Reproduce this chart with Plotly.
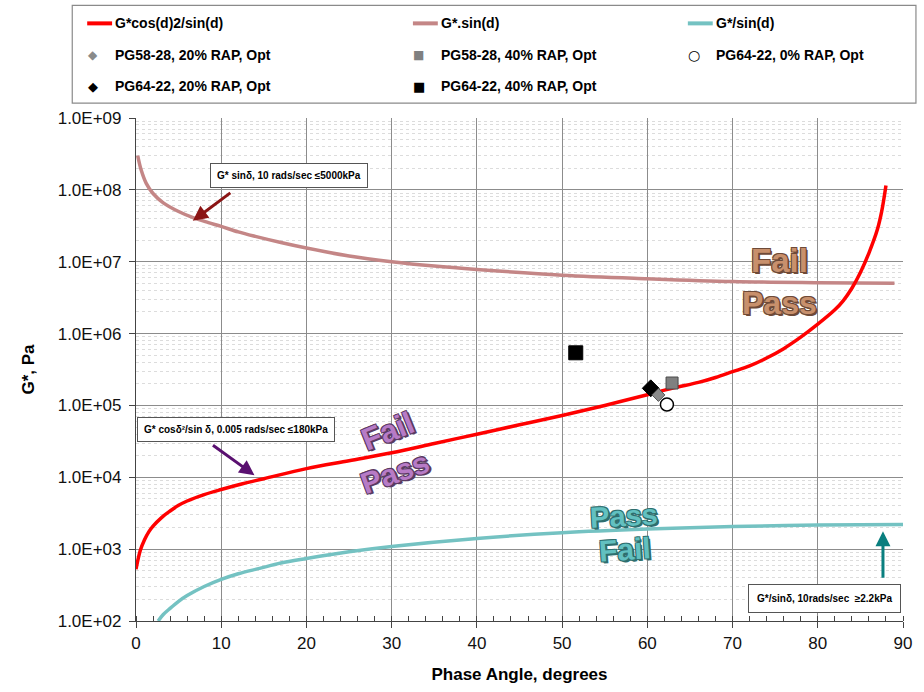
import plotly.graph_objects as go

# ---------------- data ----------------
red_deg = [0, 0.5, 1, 1.5, 2, 3, 4, 5, 6, 8, 10, 12.5, 15, 20, 25, 30, 35, 40, 45, 50, 55, 60, 63,
           66, 68, 70, 72, 74, 76, 78, 80, 82, 83, 84, 85, 86, 87, 87.5, 88]
red_g = [525, 955, 1350, 1740, 2090, 2750, 3390, 4070, 4680, 5750, 6760, 8130, 9550, 13200, 17000,
         21900, 29500, 39800, 53700, 72400, 100000, 141000, 174000,
         209000, 245000, 295000, 355000, 457000, 617000, 891000, 1350000, 2140000, 2880000,
         4270000, 7080000, 13200000, 28200000, 50100000, 115000000]

sin_deg = [0.2, 0.6, 1.2, 2, 3.2, 5, 6.7, 8.5, 10, 12, 14, 17, 20, 25, 30, 35, 40, 50, 60, 70, 80, 89]
sin_g = [3.0e8, 1.9e8, 1.23e8, 8.9e7, 6.6e7, 5.0e7, 4.1e7, 3.5e7, 3.1e7, 2.6e7, 2.25e7, 1.85e7,
         1.55e7, 1.2e7, 1.0e7, 8.7e6, 7.8e6, 6.5e6, 5.8e6, 5.3e6, 5.1e6, 5.0e6]

inv_deg = [2.6, 3.2, 4, 5, 6, 8, 10, 12, 14.5, 17, 20, 25, 30, 40, 50, 60, 70, 80, 90]
inv_g = [100, 123, 150, 188, 226, 302, 380, 455, 540, 640, 740, 920, 1090, 1410, 1690, 1900, 2060, 2160, 2200]

pt_names = ["PG58-28, 20% RAP, Opt", "PG58-28, 40% RAP, Opt", "PG64-22, 0% RAP, Opt",
            "PG64-22, 20% RAP, Opt", "PG64-22, 40% RAP, Opt"]
pt_deg = [61.3, 62.9, 62.3, 60.4, 51.6]
pt_g = [1.40e5, 2.05e5, 1.03e5, 1.73e5, 5.4e5]

line_names = ["G*cos(d)2/sin(d)", "G*.sin(d)", "G*/sin(d)"]
y_tickvals = [1e2, 1e3, 1e4, 1e5, 1e6, 1e7, 1e8, 1e9]
y_ticktext = ["1.0E+02", "1.0E+03", "1.0E+04", "1.0E+05", "1.0E+06", "1.0E+07", "1.0E+08", "1.0E+09"]

# ---------------- styles ----------------
RED = "#FF0000"
BROWN = "#C48686"
TEAL = "#74C2C2"
pt_styles = [
    dict(symbol="diamond", size=10, color="#8A8A8A", line=dict(color="#555555", width=1)),
    dict(symbol="square", size=12, color="#808080", line=dict(color="#4a4a4a", width=1)),
    dict(symbol="circle", size=13, color="#FFFFFF", line=dict(color="#000000", width=1.5)),
    dict(symbol="diamond", size=13, color="#000000", line=dict(color="#000000", width=1)),
    dict(symbol="square", size=14, color="#000000", line=dict(color="#000000", width=1)),
]

FONT = "Liberation Sans, Arial, sans-serif"

fig = go.Figure()
fig.add_trace(go.Scatter(x=sin_deg, y=sin_g, mode="lines", name=line_names[1],
                         line=dict(color=BROWN, width=3.5, shape="spline", smoothing=1.0)))
fig.add_trace(go.Scatter(x=inv_deg, y=inv_g, mode="lines", name=line_names[2],
                         line=dict(color=TEAL, width=3.5, shape="spline", smoothing=1.0)))
fig.add_trace(go.Scatter(x=red_deg, y=red_g, mode="lines", name=line_names[0],
                         line=dict(color=RED, width=3.5, shape="spline", smoothing=1.0)))
order = [4, 3, 0, 1, 2]
for i in order:
    fig.add_trace(go.Scatter(x=[pt_deg[i]], y=[pt_g[i]], mode="markers", name=pt_names[i],
                             marker=pt_styles[i]))

# ---------------- layout helpers (pixel -> paper) ----------------
L, R, T, B = 136, 18, 118, 69
W, H = 924, 692
PW, PH = W - L - R, H - T - B


def px(X):
    return (X - L) / PW


def py(Y):
    return (H - B - Y) / PH


shapes = []
annotations = []

# custom legend box
shapes.append(dict(type="rect", xref="paper", yref="paper", x0=px(72), x1=px(919), y0=py(103), y1=py(5),
                   line=dict(color="#8a8a8a", width=1.2), fillcolor="white", layer="above"))
col_x = [113, 440, 716]
row_y = [23, 55, 86]
LEG_FONT = dict(family=FONT, size=14, color="#000", weight="bold")
line_colors = [RED, BROWN, TEAL]
for c in range(3):
    shapes.append(dict(type="line", xref="paper", yref="paper", x0=px(col_x[c] - 26), x1=px(col_x[c] - 1),
                       y0=py(row_y[0]), y1=py(row_y[0]), line=dict(color=line_colors[c], width=4), layer="above"))
    annotations.append(dict(xref="paper", yref="paper", x=px(col_x[c]), y=py(row_y[0]), text=line_names[c],
                            showarrow=False, xanchor="left", yanchor="middle", font=LEG_FONT))
glyphs = [("◆", "#8A8A8A", 12), ("■", "#808080", 12), ("○", "#000000", 14), ("◆", "#000000", 13), ("■", "#000000", 13)]
for k in range(5):
    r = 1 + k // 3
    c = k % 3
    g, col, sz = glyphs[k]
    annotations.append(dict(xref="paper", yref="paper", x=px(col_x[c] - 20), y=py(row_y[r]), text=g,
                            showarrow=False, xanchor="center", yanchor="middle",
                            font=dict(family="DejaVu Sans", size=sz, color=col)))
    annotations.append(dict(xref="paper", yref="paper", x=px(col_x[c]), y=py(row_y[r]), text=pt_names[k],
                            showarrow=False, xanchor="left", yanchor="middle", font=LEG_FONT))

# criterion boxes and arrows
BOX_FONT = dict(family=FONT, size=10, color="#000", weight="bold")
annotations += [
    dict(x=18.0, y=8.204, xref="x", yref="y", text="G* sinδ, 10 rads/sec ≤5000kPa", showarrow=False,
         bgcolor="white", bordercolor="#555", borderwidth=1, borderpad=6, font=BOX_FONT),
    dict(x=11.7, y=4.667, xref="x", yref="y", text="G* cosδ²/sin δ, 0.005 rads/sec ≤180kPa", showarrow=False,
         bgcolor="white", bordercolor="#555", borderwidth=1, borderpad=6, font=BOX_FONT),
    dict(x=80.8, y=2.32, xref="x", yref="y", text="G*/sinδ, 10rads/sec  ≥2.2kPa", showarrow=False,
         bgcolor="white", bordercolor="#555", borderwidth=1, borderpad=8, font=BOX_FONT),
    dict(x=6.67, y=7.57, xref="x", yref="y", text="", showarrow=True, ax=39, ay=-29,
         arrowcolor="#8B1414", arrowwidth=3, arrowhead=2, arrowsize=1),
    dict(x=13.9, y=4.03, xref="x", yref="y", text="", showarrow=True, ax=-43, ay=-31,
         arrowcolor="#5A1070", arrowwidth=3, arrowhead=2, arrowsize=1),
    dict(x=87.65, y=3.25, xref="x", yref="y", text="", showarrow=True, ax=0, ay=48,
         arrowcolor="#0A7F7F", arrowwidth=3, arrowhead=2, arrowsize=1),
]


def wordart(x, ylog, text, fill, outline, angle, size):
    sh = ", ".join(f"{dx}px {dy}px 0 {outline}" for dx, dy in [(1, 1), (-1, -1), (1, -1), (-1, 1), (2, 2)])
    return dict(x=x, y=ylog, xref="x", yref="y", text=text, showarrow=False, textangle=angle,
                font=dict(family=FONT, size=size, color=fill, weight="bold", shadow=sh))


annotations += [
    wordart(75.5, 7.02, "Fail", "#C8906C", "#6E4A38", 0, 33),
    wordart(75.5, 6.42, "Pass", "#C8906C", "#6E4A38", 0, 32),
    wordart(29.5, 4.64, "Fail", "#B77BC6", "#5A3A62", -22, 31),
    wordart(30.4, 4.06, "Pass", "#B77BC6", "#5A3A62", -20, 30),
    wordart(57.3, 3.46, "Pass", "#62C0C0", "#2E6E6E", -3, 29),
    wordart(57.4, 2.99, "Fail", "#62C0C0", "#2E6E6E", -4, 30),
]

minor_y = [k * 10 ** n for n in range(2, 9) for k in range(2, 10)]

fig.update_layout(
    width=W, height=H, autosize=False,
    margin=dict(l=L, r=R, t=T, b=B),
    paper_bgcolor="white", plot_bgcolor="white",
    showlegend=False,
    font=dict(family=FONT, color="#000"),
    shapes=shapes, annotations=annotations,
    xaxis=dict(range=[0, 90], tickmode="linear", tick0=0, dtick=10,
               showgrid=True, gridcolor="#8c8c8c", gridwidth=1,
               showline=True, linecolor="#444", linewidth=1.2, zeroline=False,
               ticks="outside", ticklen=6, tickcolor="#444",
               minor=dict(tickmode="linear", tick0=0, dtick=2, ticks="inside", ticklen=5,
                          tickcolor="#444", showgrid=False),
               tickfont=dict(size=17, family=FONT, color="#111"),
               title=dict(text="Phase Angle, degrees", font=dict(size=17, family=FONT, weight="bold"), standoff=16)),
    yaxis=dict(type="log", range=[2, 9], tickmode="array", tickvals=y_tickvals, ticktext=y_ticktext,
               showgrid=True, gridcolor="#8c8c8c", gridwidth=1,
               showline=True, linecolor="#444", linewidth=1.2, zeroline=False,
               ticks="outside", ticklen=6, tickcolor="#444", ticklabelstandoff=4,
               minor=dict(tickmode="array", tickvals=minor_y, showgrid=True, gridcolor="#dcdcdc",
                          griddash="dot", gridwidth=1, ticks=""),
               tickfont=dict(size=17, family=FONT, color="#111"),
               title=dict(text="G*, Pa", font=dict(size=17, family=FONT, weight="bold"), standoff=18)),
)

fig.write_html("out.html")
